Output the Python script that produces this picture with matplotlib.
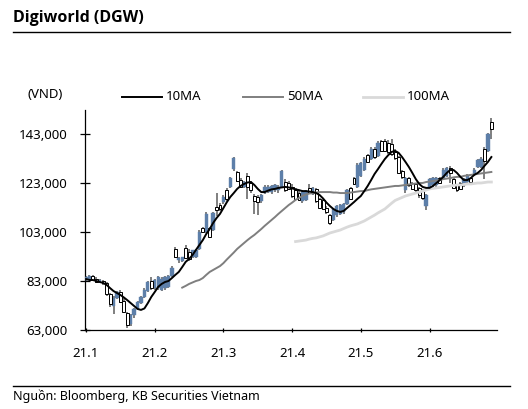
import numpy as np
import matplotlib
matplotlib.use("Agg")
import matplotlib.pyplot as plt
from matplotlib.lines import Line2D
from matplotlib.ticker import FuncFormatter

plt.rcParams['font.family'] = ['Noto Sans', 'DejaVu Sans']

# ---------------- data (prices in thousand VND) ----------------
tick_labels = ["21.1", "21.2", "21.3", "21.4", "21.5", "21.6"]
tick_every = 20

opens = [83.5, 84, 85, 84, 82.5, 83, 82, 77.5, 73, 76,
         78.5, 75, 70, 65.5, 69, 71.5, 74, 76.5, 79, 83,
         80, 80, 79.5, 80, 80.5, 85, 96, 91.5, 91, 96.5,
         95, 92.8, 93, 96, 104.5, 103, 104.5, 104, 113.2, 114,
         115.3, 120, 121.5, 128.7, 127.5, 124.2, 121.5, 126, 123, 117.5,
         117.3, 115.5, 119, 119.5, 119.3, 120, 120, 121.5, 123.4, 123,
         121.5, 120, 119, 115.5, 116, 121, 118.5, 120.5, 116.5, 116,
         113, 110, 108, 110, 110.5, 111, 114.5, 121, 125, 121.5,
         126, 128.5, 134.5, 133, 137, 134, 140, 140, 139.5, 139,
         135.7, 133.5, 128, 120, 125, 123, 122.5, 121, 120, 113.5,
         121, 122, 122, 125, 125, 126, 129, 124.5, 122, 123,
         122, 123.5, 125, 126.5, 129.5, 129.5, 137, 136, 148]
highs = [85, 85.5, 85.5, 84.5, 84, 83.5, 82.5, 78, 77, 79,
         79.5, 76, 70.5, 69.5, 72, 75, 77, 80, 83, 84.5,
         84, 85, 84.5, 85, 85.5, 89, 97, 93, 93, 97.5,
         96, 95.7, 96, 104, 105, 111, 105, 111, 119, 115,
         118, 121, 125.5, 133.5, 128, 125, 124, 127, 124, 118.5,
         118, 118.5, 122, 122, 122, 122.5, 122, 128.5, 124.5, 124,
         122.5, 121, 120, 120, 120, 122.5, 121.5, 121, 117, 116.5,
         113.5, 110.5, 113, 114, 114.5, 115, 120.5, 121.5, 125.5, 131,
         131.5, 133.5, 135, 137.5, 137.5, 140, 140.5, 141, 140.5, 141,
         137, 134, 128.5, 125.5, 125.5, 123.5, 123, 121.5, 120.5, 118.5,
         125, 125.5, 125.5, 125.5, 129, 129.5, 130, 125.5, 122.5, 123.5,
         125, 126.5, 125.5, 129, 133, 133.5, 137.5, 143.5, 149.5]
lows = [83, 83.5, 83, 82, 82, 81.5, 77, 72.5, 69.5, 75.5,
        74, 70, 64, 64.5, 68, 71, 73.5, 76, 78.5, 79.5,
        79.5, 79.5, 79, 79.5, 80, 84.5, 92.5, 90.5, 90.8, 92,
        91, 92.5, 92.5, 95.5, 102.5, 102.5, 100.5, 103.5, 109.5, 111.5,
        114.5, 115.5, 121, 128, 123.5, 121, 121, 116.5, 119, 110.5,
        110, 115, 118.5, 119, 118.5, 119.5, 119, 121, 119.5, 120,
        117, 116, 115.5, 115, 115.5, 118.5, 118, 115, 112.5, 112,
        110.5, 106, 107.5, 109, 110, 110.5, 114, 116, 122, 121,
        125.5, 128, 131, 132.5, 133, 133.5, 135.5, 135.5, 135, 134,
        132.5, 126.5, 124.5, 119, 121.5, 120, 119.5, 117, 116, 112,
        120.5, 121.5, 121, 122.5, 124.5, 125.5, 123, 120.5, 119.5, 120,
        121.5, 123, 122.5, 126, 129, 129, 124.5, 135.5, 141]
closes = [84.5, 85, 83.5, 82.5, 83.5, 82, 77.5, 73.5, 76, 78.5,
          74.5, 70.5, 65, 69, 71.5, 74.5, 76.5, 79.5, 82.5, 80,
          83.5, 84.5, 84, 84.5, 85, 88.5, 93, 92.5, 92.6, 92.5,
          92, 95.5, 95.5, 103, 103, 110.5, 101, 110.8, 112, 112.3,
          117.3, 116.5, 125, 133.2, 124, 121.5, 123.5, 121.5, 120, 115.5,
          115.3, 118, 121.5, 121.5, 121.8, 122, 121.5, 128, 120, 120.5,
          117.5, 116.5, 116, 119.5, 119.8, 119, 121, 115.5, 113, 112.5,
          111.3, 106.7, 112.5, 113.5, 114, 114.5, 120, 116.5, 122.5, 130.5,
          131, 133, 131.5, 137, 133.5, 139.5, 136, 136, 135.5, 135,
          133.2, 127, 125.3, 125, 122, 120.5, 120, 118, 117, 118,
          124.5, 125, 125, 123, 128.5, 129, 127, 121, 120, 120.5,
          124.5, 126, 123.4, 128.5, 132.5, 133, 132, 143, 145]

ma10 = [83.8, 83.4, 83.4, 83.0, 82.6, 82.2, 81.4, 80.1, 78.9, 78.1,
        77.3, 76.3, 75.2, 74.0, 72.8, 71.6, 71.2, 71.8, 74.0, 76.5,
        78.5, 80.6, 81.8, 82.6, 83.0, 84.2, 85.5, 86.7, 88.7, 90.8,
        92.0, 93.6, 95.7, 97.7, 99.7, 102.2, 104.2, 106.7, 108.7, 110.4,
        112.8, 115.2, 117.3, 118.9, 120.6, 121.8, 122.6, 123.2, 123.4, 122.2,
        120.6, 119.3, 119.3, 119.9, 120.4, 120.6, 121.0, 121.2, 121.4, 121.2,
        120.8, 120.4, 120.1, 119.7, 119.7, 119.5, 119.3, 118.9, 118.1, 116.7,
        115.0, 113.6, 112.4, 111.6, 111.2, 111.6, 112.8, 114.0, 115.2, 116.5,
        117.7, 119.7, 121.8, 124.2, 126.7, 128.7, 130.8, 132.8, 134.4, 135.7,
        136.1, 135.3, 133.6, 131.6, 129.5, 127.1, 124.6, 122.6, 121.4, 121.0,
        121.0, 121.8, 123.0, 124.2, 125.5, 127.1, 128.3, 128.3, 127.1, 125.5,
        124.2, 124.2, 125.0, 126.3, 127.1, 128.3, 130.0, 131.6, 133.6]

ma50_start = 28
ma50_values = [80.3, 81.0, 81.8, 82.4, 83.0, 83.4, 84.2, 85.5, 86.7, 87.5,
               88.3, 89.1, 90.3, 91.8, 93.2, 94.6, 96.1, 97.3, 98.5, 99.7,
               100.8, 101.8, 103.0, 104.2, 105.5, 106.7, 107.9, 109.1, 110.4, 111.6,
               112.8, 114.0, 115.0, 116.1, 116.9, 117.7, 118.3, 118.7, 118.9, 119.1,
               119.3, 119.3, 119.3, 119.3, 119.1, 119.1, 118.9, 118.9, 118.9, 119.1,
               119.3, 119.5, 119.7, 119.7, 120.1, 120.4, 120.6, 120.8, 121.0, 121.2,
               121.4, 121.6, 121.8, 121.8, 122.0, 122.2, 122.4, 122.6, 122.8, 123.0,
               123.0, 123.4, 123.6, 123.8, 124.0, 124.2, 124.6, 124.8, 125.0, 125.3,
               125.5, 125.5, 125.9, 126.1, 126.3, 126.5, 126.7, 126.9, 127.1, 127.3,
               127.5]

ma100_start = 61
ma100_values = [99.1, 99.3, 99.5, 99.7, 100.1, 100.4, 100.6, 101.0, 101.4, 102.0,
                102.6, 103.0, 103.4, 103.8, 104.4, 105.0, 105.5, 105.9, 106.3, 106.9,
                107.5, 108.3, 109.1, 109.9, 110.8, 111.6, 112.4, 113.6, 114.8, 115.9,
                116.5, 117.1, 117.7, 118.1, 118.5, 118.9, 119.3, 119.7, 120.1, 120.6,
                120.8, 121.0, 121.2, 121.4, 121.6, 121.8, 122.0, 122.2, 122.2, 122.4,
                122.6, 122.6, 122.8, 123.0, 123.0, 123.2, 123.4, 123.4]

y_ticks = [63000, 83000, 103000, 123000, 143000]

# ---------------- build ----------------
n = len(closes)
x = np.arange(n)
o = np.array(opens) * 1000
h = np.array(highs) * 1000
l = np.array(lows) * 1000
c = np.array(closes) * 1000
m10 = np.array(ma10) * 1000
m50 = np.full(n, np.nan)
m50[ma50_start:ma50_start + len(ma50_values)] = np.array(ma50_values) * 1000
m100 = np.full(n, np.nan)
m100[ma100_start:ma100_start + len(ma100_values)] = np.array(ma100_values) * 1000

BLUE = '#5d7fa9'
GREY = '#7f7f7f'
LIGHT = '#d9d9d9'

W, H = 528, 409
fig = plt.figure(figsize=(W / 100, H / 100), dpi=100)
ax = fig.add_axes([85 / W, 79 / H, 412 / W, 220.5 / H])

ax.vlines(x, l, h, color=GREY, lw=1.4, zorder=2)
up = c >= o
dn = ~up
ax.bar(x[up], (c - o)[up], bottom=o[up], width=0.95, color=BLUE,
       edgecolor=BLUE, linewidth=0.3, zorder=3)
ax.bar(x[dn], (o - c)[dn], bottom=c[dn], width=0.85, facecolor='white',
       edgecolor='black', linewidth=0.7, zorder=3)

ax.plot(x, m100, color=LIGHT, lw=2.0, zorder=4)
ax.plot(x, m50, color=GREY, lw=1.4, zorder=5)
ax.plot(x, m10, color='black', lw=1.4, zorder=6)

ax.set_xlim(-0.3, 119.64)
ax.set_ylim(63000, 153000)
ax.set_yticks(y_ticks)
ax.yaxis.set_major_formatter(FuncFormatter(lambda v, p: f"{v:,.0f}"))
ax.set_xticks(x[::tick_every])
ax.set_xticklabels(tick_labels)

for s in ['top', 'right']:
    ax.spines[s].set_visible(False)
for s in ['left', 'bottom']:
    ax.spines[s].set_linewidth(0.9)
    ax.spines[s].set_color('black')

ax.tick_params(axis='y', direction='inout', length=7, width=0.9,
               pad=9, labelsize=9.5, colors='black')
ax.tick_params(axis='x', direction='inout', length=3, width=0.9,
               pad=11, labelsize=9.5, colors='black')

# ---------------- title, legend, footer ----------------
def fx(px):
    return px / W


def fy(py):
    return 1 - py / H


fig.text(fx(13), fy(18), "Digiworld (DGW)", fontsize=11.5, fontweight='bold',
         family=['Open Sans', 'DejaVu Sans'], va='center', ha='left')
fig.add_artist(Line2D([fx(13), fx(510)], [fy(32), fy(32)], color='black', lw=1.0))

fig.text(fx(27), fy(95), "(VND)", fontsize=9.5, va='center', ha='left')
legend_items = [("10MA", 'black', 1.4, 122), ("50MA", GREY, 1.4, 243),
                ("100MA", LIGHT, 2.0, 363)]
for label, col, lw, x0 in legend_items:
    fig.add_artist(Line2D([fx(x0), fx(x0 + 40)], [fy(97), fy(97)], color=col, lw=lw))
    fig.text(fx(x0 + 44), fy(97), label, fontsize=9.5, va='center', ha='left')

fig.add_artist(Line2D([fx(13), fx(510)], [fy(386), fy(386)], color='black', lw=1.0))
fig.text(fx(13), fy(396), "Nguồn: Bloomberg, KB Securities Vietnam", fontsize=9,
         va='center', ha='left')

fig.savefig("out.png", dpi=100)
